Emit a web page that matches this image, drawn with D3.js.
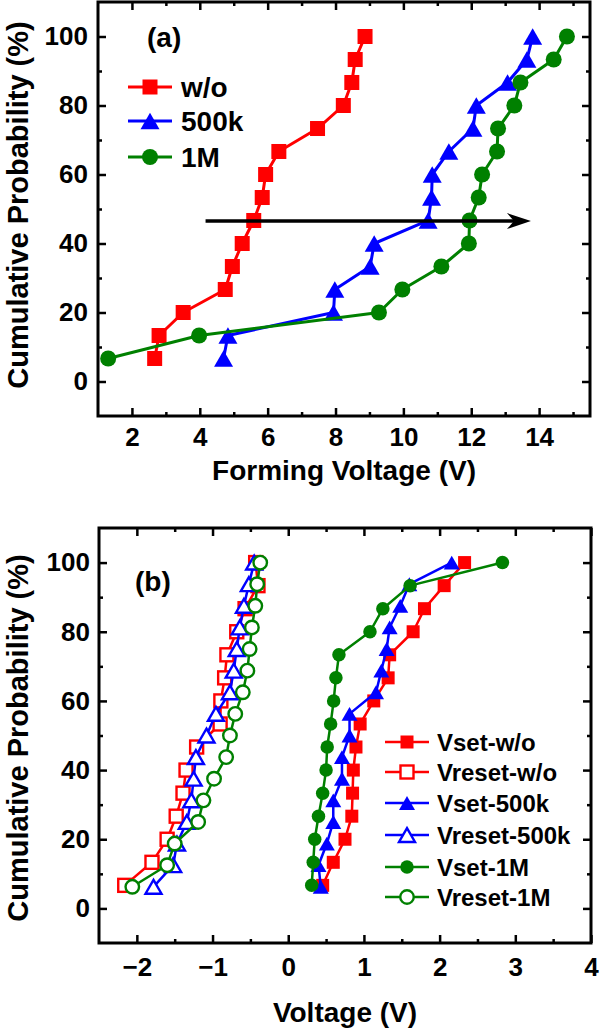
<!DOCTYPE html>
<html><head><meta charset="utf-8">
<script src="https://cdn.jsdelivr.net/npm/d3@7"></script>
<style>
body{margin:0;background:#fff}
svg{display:block}
text{font-family:"Liberation Sans",Arial,sans-serif;font-weight:bold;fill:#000}
</style>
</head><body>
<svg id="c" width="600" height="1030"></svg>
<script>
// ---------- Panel (a) data ----------
const probA = [6.67,13.33,20,26.67,33.33,40,46.67,53.33,60,66.67,73.33,80,86.67,93.33,100];
const formWo   = [2.67,2.80,3.51,4.75,4.96,5.25,5.59,5.84,5.94,6.33,7.47,8.23,8.48,8.58,8.87];
const form500k = [4.70,4.83,7.94,7.98,9.02,9.14,10.73,10.83,10.85,11.34,12.05,12.15,13.07,13.64,13.81];
const form1M   = [1.30,3.98,9.28,9.97,11.12,11.93,11.95,12.22,12.32,12.76,12.79,13.27,13.45,14.43,14.82];
const arrowX = [4.17, 13.76];
const arrowY = [46.5, 46.5];
const labelsA = ["w/o","500k","1M"];
const ticksAX = [2,4,6,8,10,12,14];
const minorAX = [3,5,7,9,11,13,15];
const ticksY = [0,20,40,60,80,100];
const minorY = [10,30,50,70,90];

// ---------- Panel (b) data ----------
const prob15 = [6.67,13.33,20,26.67,33.33,40,46.67,53.33,60,66.67,73.33,80,86.67,93.33,100];
const prob16 = [6.25,12.5,18.75,25,31.25,37.5,43.75,50,56.25,62.5,68.75,75,81.25,87.5,93.75,100];
const vsetWo    = [0.455,0.595,0.75,0.84,0.85,0.86,0.895,0.95,1.13,1.32,1.34,1.65,1.80,2.06,2.33];
const vresetWo  = [-2.16,-1.80,-1.60,-1.48,-1.39,-1.35,-1.21,-0.90,-0.89,-0.84,-0.81,-0.68,-0.57,-0.40,-0.43];
const vset500k  = [0.43,0.40,0.51,0.595,0.595,0.71,0.71,0.81,0.81,1.16,1.23,1.30,1.34,1.48,1.60,2.16];
const vreset500k= [-1.78,-1.52,-1.47,-1.34,-1.28,-1.25,-1.22,-1.08,-0.955,-0.77,-0.72,-0.68,-0.64,-0.585,-0.52,-0.45];
const vset1M    = [0.31,0.33,0.35,0.40,0.455,0.50,0.515,0.56,0.60,0.63,0.67,1.08,1.25,1.61,2.83];
const vreset1M  = [-2.06,-1.60,-1.50,-1.19,-1.12,-0.98,-0.82,-0.77,-0.70,-0.60,-0.54,-0.51,-0.48,-0.435,-0.41,-0.37];
const labelsB = ["Vset-w/o","Vreset-w/o","Vset-500k","Vreset-500k","Vset-1M","Vreset-1M"];
const ticksBX = [-2,-1,0,1,2,3,4];
const minorBX = [-1.5,-0.5,0.5,1.5,2.5,3.5];

const RED="#ff0000", BLUE="#0000ff", GREEN="#008000";

const svg = d3.select("#c");

// scales
const xA = d3.scaleLinear().domain([1,15.5]).range([98,590]);
const yA = d3.scaleLinear().domain([-10,110]).range([416,2]);
const xB = d3.scaleLinear().domain([-2.5,4]).range([99,591]);
const yB = d3.scaleLinear().domain([-10,110]).range([943,528]);

function marker(g, shape, cx, cy, s, color, filled, sw){
  let el;
  if(shape==="square"){
    el = g.append("rect").attr("x",cx-s/2).attr("y",cy-s/2).attr("width",s).attr("height",s);
  } else if(shape==="circle"){
    el = g.append("circle").attr("cx",cx).attr("cy",cy).attr("r",s/2);
  } else {
    const h = s*Math.sqrt(3)/2;
    el = g.append("path").attr("d",`M${cx},${cy-h/2}L${cx+s/2},${cy+h/2}L${cx-s/2},${cy+h/2}Z`);
  }
  if(filled){ el.attr("fill",color).attr("stroke","none"); }
  else { el.attr("fill","#fff").attr("stroke",color).attr("stroke-width",sw); }
}

function drawSeries(g, xs, ys, xs_, ys_, color, shape, filled, size, lw){
  const pts = xs.map((v,i)=>[xs_(v), ys_(ys[i])]);
  g.append("path").attr("d", d3.line()(pts)).attr("fill","none")
    .attr("stroke",color).attr("stroke-width",lw).attr("stroke-linejoin","round");
  pts.forEach(p=>marker(g, shape, p[0], p[1], size[shape], color, filled, 2.4));
}

function frameAxes(x, y, majX, minX, padX, padY){
  const [x0,x1] = x.range(), [y0,y1] = y.range();
  const g = svg.append("g");
  const style = sel => { sel.select(".domain").remove(); sel.selectAll("line").attr("stroke","#000").attr("stroke-width",2.5); };
  // bottom
  const gb = g.append("g").attr("transform",`translate(0,${y0})`)
    .call(d3.axisBottom(x).tickValues(majX).tickSize(-8).tickPadding(padX).tickFormat(d3.format("d")));
  gb.call(style);
  gb.selectAll("text").attr("font-size",26).attr("font-family",null).attr("fill","#000");
  g.append("g").attr("transform",`translate(0,${y0})`)
    .call(d3.axisBottom(x).tickValues(minX).tickSize(-4).tickFormat("")).call(style);
  // top
  g.append("g").attr("transform",`translate(0,${y1})`)
    .call(d3.axisTop(x).tickValues(majX).tickSize(-8).tickFormat("")).call(style);
  g.append("g").attr("transform",`translate(0,${y1})`)
    .call(d3.axisTop(x).tickValues(minX).tickSize(-4).tickFormat("")).call(style);
  // left
  const gl = g.append("g").attr("transform",`translate(${x0},0)`)
    .call(d3.axisLeft(y).tickValues(ticksY).tickSize(-8).tickPadding(padY).tickFormat(d3.format("d")));
  gl.call(style);
  gl.selectAll("text").attr("font-size",26).attr("font-family",null).attr("fill","#000");
  g.append("g").attr("transform",`translate(${x0},0)`)
    .call(d3.axisLeft(y).tickValues(minorY).tickSize(-4).tickFormat("")).call(style);
  // right
  g.append("g").attr("transform",`translate(${x1},0)`)
    .call(d3.axisRight(y).tickValues(ticksY).tickSize(-8).tickFormat("")).call(style);
  g.append("g").attr("transform",`translate(${x1},0)`)
    .call(d3.axisRight(y).tickValues(minorY).tickSize(-4).tickFormat("")).call(style);
  g.selectAll(".tick text").attr("font-weight","bold");
  g.append("rect").attr("x",x0).attr("y",y1).attr("width",x1-x0).attr("height",y0-y1)
    .attr("fill","none").attr("stroke","#000").attr("stroke-width",3);
}

// ---------- Panel (a) ----------
const sizeA = {square:15, circle:16, triangle:19};
const gA = svg.append("g");
const seriesA = [
  {x:formWo, color:RED, shape:"square"},
  {x:form500k, color:BLUE, shape:"triangle"},
  {x:form1M, color:GREEN, shape:"circle"}
];
seriesA.forEach(s=>drawSeries(gA, s.x, probA, xA, yA, s.color, s.shape, true, sizeA, 3));

// arrow
{
  const ax0 = xA(arrowX[0]), ax1 = xA(arrowX[1]), ay = yA(arrowY[0]);
  gA.append("line").attr("x1",ax0).attr("x2",ax1-10).attr("y1",ay).attr("y2",ay)
    .attr("stroke","#000").attr("stroke-width",3.5);
  gA.append("path").attr("d",`M${ax1},${ay}L${ax1-24},${ay-8}L${ax1-17},${ay}L${ax1-24},${ay+8}Z`)
    .attr("fill","#000");
}
frameAxes(xA, yA, ticksAX, minorAX, 12, 10);

// legend (a)
const legAY = [87,121,157];
seriesA.forEach((s,i)=>{
  const y = legAY[i];
  gA.append("line").attr("x1",128).attr("x2",172).attr("y1",y).attr("y2",y)
    .attr("stroke",s.color).attr("stroke-width",3);
  marker(gA, s.shape, 150, y, sizeA[s.shape], s.color, true, 2.4);
  gA.append("text").attr("x",181).attr("y",y+10).attr("font-size",28).text(labelsA[i]);
});
svg.append("text").attr("x",147).attr("y",47).attr("font-size",28).text("(a)");
svg.append("text").attr("x",(98+590)/2).attr("y",480).attr("text-anchor","middle")
  .attr("font-size",28).text("Forming Voltage (V)");
svg.append("text").attr("transform",`translate(28,205) rotate(-90)`).attr("text-anchor","middle")
  .attr("font-size",29).text("Cumulative Probability (%)");

// ---------- Panel (b) ----------
const sizeB = {square:13, circle:13.5, triangle:16};
const gB = svg.append("g");
const seriesB = [
  {x:vsetWo, y:prob15, color:RED, shape:"square", filled:true},
  {x:vresetWo, y:prob15, color:RED, shape:"square", filled:false},
  {x:vset500k, y:prob16, color:BLUE, shape:"triangle", filled:true},
  {x:vreset500k, y:prob16, color:BLUE, shape:"triangle", filled:false},
  {x:vset1M, y:prob15, color:GREEN, shape:"circle", filled:true},
  {x:vreset1M, y:prob16, color:GREEN, shape:"circle", filled:false}
];
seriesB.forEach(s=>drawSeries(gB, s.x, s.y, xB, yB, s.color, s.shape, s.filled, sizeB, 2.5));
frameAxes(xB, yB, ticksBX, minorBX, 15, 9);

const legBY = [742,772,803,835,867,897];
seriesB.forEach((s,i)=>{
  const y = legBY[i];
  gB.append("line").attr("x1",385).attr("x2",429).attr("y1",y).attr("y2",y)
    .attr("stroke",s.color).attr("stroke-width",2.5);
  marker(gB, s.shape, 407, y, sizeB[s.shape], s.color, s.filled, 2.4);
  gB.append("text").attr("x",437).attr("y",y+8.5).attr("font-size",24).text(labelsB[i]);
});
svg.append("text").attr("x",135).attr("y",591).attr("font-size",28).text("(b)");
svg.append("text").attr("x",(99+591)/2).attr("y",1022).attr("text-anchor","middle")
  .attr("font-size",28).text("Voltage (V)");
svg.append("text").attr("transform",`translate(28,738) rotate(-90)`).attr("text-anchor","middle")
  .attr("font-size",29).text("Cumulative Probability (%)");
</script>
</body></html>
